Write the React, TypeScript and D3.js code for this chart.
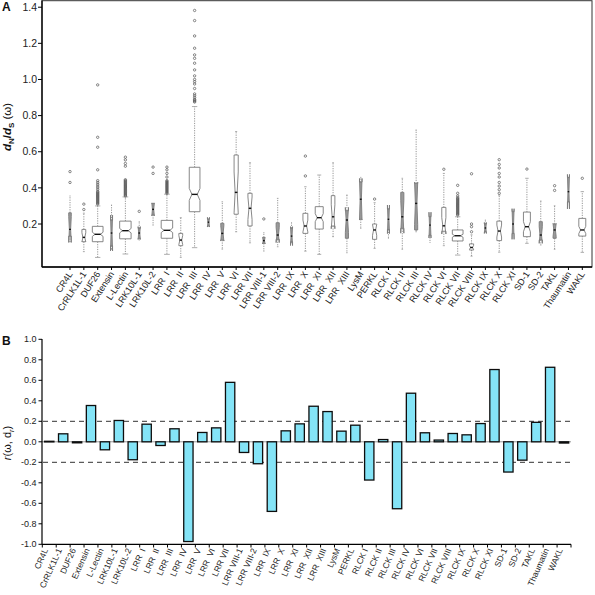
import React from "react";
import * as d3 from "d3";

const categories = [
  "CR4L", "CrRLK1L-1", "DUF26", "Extensin", "L-Lectin", "LRK10L-1", "LRK10L-2",
  "LRR  I", "LRR  II", "LRR  III", "LRR  IV", "LRR  V", "LRR  VI", "LRR VII",
  "LRR VIII-1", "LRR VIII-2", "LRR  IX", "LRR  X", "LRR  XI", "LRR  XII", "LRR  XIII",
  "LysM", "PERKL", "RLCK I", "RLCK II", "RLCK III", "RLCK IV", "RLCK VI", "RLCK VII",
  "RLCK VIII", "RLCK IX", "RLCK X", "RLCK XI", "SD-1", "SD-2", "TAKL", "Thaumatin", "WAKL",
];

// Panel A: dN/dS box statistics
const q1 = [0.133, 0.102, 0.102, 0.08, 0.118, 0.121, 0.25, 0.121, 0.08, 0.268, 0.189, 0.111, 0.254, 0.189,
  0.093, 0.115, 0.102, 0.148, 0.172, 0.189, 0.121, 0.226, 0.115, 0.17, 0.176, 0.167, 0.139, 0.16, 0.106,
  0.056, 0.157, 0.108, 0.148, 0.13, 0.112, 0.121, 0.323, 0.133];
const medians = [0.17, 0.126, 0.143, 0.15, 0.163, 0.15, 0.281, 0.165, 0.111, 0.364, 0.21, 0.148, 0.375, 0.287,
  0.108, 0.139, 0.133, 0.189, 0.235, 0.24, 0.222, 0.337, 0.167, 0.226, 0.24, 0.314, 0.194, 0.19, 0.135,
  0.07, 0.178, 0.161, 0.2, 0.185, 0.139, 0.167, 0.379, 0.167];
const q3 = [0.262, 0.17, 0.187, 0.22, 0.216, 0.176, 0.314, 0.22, 0.148, 0.514, 0.227, 0.204, 0.582, 0.37,
  0.126, 0.207, 0.176, 0.259, 0.296, 0.357, 0.274, 0.432, 0.2, 0.282, 0.375, 0.425, 0.24, 0.292, 0.167,
  0.09, 0.2, 0.216, 0.268, 0.266, 0.213, 0.2, 0.458, 0.231];
const whiskerLow = [0.102, 0.047, 0.015, 0.06, 0.034, 0.111, 0.194, 0.032, 0.015, 0.069, 0.189, 0.061, 0.157, 0.096,
  0.05, 0.074, 0.096, 0.05, 0.032, 0.13, 0.041, 0.176, 0.065, 0.121, 0.06, 0.157, 0.098, 0.08, 0.028,
  0.022, 0.157, 0.044, 0.148, 0.093, 0.084, 0.06, 0.323, 0.043];
const whiskerHigh = [0.355, 0.26, 0.3, 0.305, 0.35, 0.213, 0.314, 0.365, 0.235, 0.85, 0.227, 0.323, 0.712, 0.539,
  0.152, 0.342, 0.207, 0.406, 0.471, 0.539, 0.36, 0.458, 0.318, 0.285, 0.453, 0.72, 0.24, 0.48, 0.24,
  0.14, 0.222, 0.36, 0.272, 0.453, 0.327, 0.301, 0.458, 0.379];
const sampleSizes = [8, 18, 140, 5, 160, 6, 8, 160, 18, 140, 5, 12, 21, 21,
  8, 12, 5, 29, 78, 16, 12, 8, 21, 5, 12, 12, 5, 21, 140,
  21, 5, 27, 5, 59, 12, 12, 5, 59];
const outliers: number[][] = [
  [0.43, 0.49],
  [0.28, 0.31],
  [0.31, 0.315, 0.32, 0.325, 0.33, 0.335, 0.34, 0.345, 0.35, 0.355, 0.36, 0.365, 0.37, 0.375, 0.38, 0.39, 0.4, 0.41, 0.42, 0.43, 0.44, 0.5, 0.625, 0.68, 0.97],
  [],
  [0.355, 0.36, 0.365, 0.37, 0.375, 0.38, 0.385, 0.39, 0.395, 0.4, 0.405, 0.41, 0.415, 0.42, 0.425, 0.43, 0.435, 0.44, 0.445, 0.52, 0.535, 0.555, 0.57],
  [0.27],
  [0.48, 0.515],
  [0.37, 0.375, 0.38, 0.385, 0.39, 0.395, 0.4, 0.405, 0.41, 0.415, 0.42, 0.425, 0.43, 0.435, 0.44, 0.46, 0.48, 0.5, 0.515],
  [],
  [0.875, 0.88, 0.885, 0.89, 0.9, 0.91, 0.92, 0.95, 0.975, 0.988, 1.0, 1.02, 1.053, 1.09, 1.117, 1.136, 1.173, 1.241, 1.326, 1.382],
  [], [], [], [],
  [0.228],
  [], [],
  [0.466, 0.576],
  [], [], [], [],
  [0.338],
  [], [], [], [],
  [0.503],
  [0.25, 0.255, 0.26, 0.265, 0.27, 0.275, 0.28, 0.285, 0.29, 0.295, 0.3, 0.305, 0.31, 0.315, 0.32, 0.325, 0.33, 0.335, 0.34, 0.345, 0.355, 0.37, 0.414],
  [0.157, 0.185, 0.2, 0.478],
  [],
  [0.37, 0.39, 0.41, 0.43, 0.46, 0.48, 0.51, 0.53, 0.556],
  [],
  [0.504],
  [],
  [0.386, 0.412],
  [],
  [0.453],
];
const yTicksA = [0.2, 0.4, 0.6, 0.8, 1.0, 1.2, 1.4];

// Panel B: correlation r(omega, d_r)
const corrValues = [0.005, 0.078, -0.01, 0.354, -0.078, 0.208, -0.175, 0.172, -0.036, 0.127, -0.973, 0.091,
  0.136, 0.58, -0.104, -0.214, -0.679, 0.107, 0.175, 0.347, 0.295, 0.104, 0.162, -0.373, 0.022, -0.653,
  0.474, 0.088, 0.017, 0.081, 0.068, 0.178, 0.705, -0.295, -0.179, 0.19, 0.727, -0.012];
const yTicksB = [1.0, 0.8, 0.6, 0.4, 0.2, 0.0, -0.2, -0.4, -0.6, -0.8, -1.0];
const thresholds = [0.2, -0.2];

const FONT = "Arial, 'Liberation Sans', sans-serif";

export default function App() {
  // ---------- Panel A ----------
  const xA = d3.scalePoint<string>().domain(categories).range([70, 582.3]);
  const yA = d3.scaleLinear().domain([-0.038, 1.436]).range([267, 0.7]);
  const maxWidth = 10.7;
  const refN = 140;

  const boxes = categories.map((c, i) => {
    const cx = xA(c) as number;
    const n = sampleSizes[i];
    const hw = (maxWidth * Math.sqrt(n / refN)) / 2;
    const nh = (1.58 * (q3[i] - q1[i])) / Math.sqrt(n);
    const ind = hw / 2;
    const med = medians[i];
    const pts: [number, number][] = [
      [cx - hw, yA(q1[i])],
      [cx - hw, yA(med - nh)],
      [cx - hw + ind, yA(med)],
      [cx - hw, yA(med + nh)],
      [cx - hw, yA(q3[i])],
      [cx + hw, yA(q3[i])],
      [cx + hw, yA(med + nh)],
      [cx + hw - ind, yA(med)],
      [cx + hw, yA(med - nh)],
      [cx + hw, yA(q1[i])],
    ];
    const line = d3.line();
    const narrow = hw < 1.6;
    return (
      <g key={c}>
        <line x1={cx} x2={cx} y1={yA(q3[i])} y2={yA(whiskerHigh[i])} stroke="#8a8a8a" strokeWidth={0.9} strokeDasharray="1.2,1.2" />
        <line x1={cx} x2={cx} y1={yA(q1[i])} y2={yA(whiskerLow[i])} stroke="#8a8a8a" strokeWidth={0.9} strokeDasharray="1.2,1.2" />
        <line x1={cx - hw / 2} x2={cx + hw / 2} y1={yA(whiskerHigh[i])} y2={yA(whiskerHigh[i])} stroke="#999" strokeWidth={0.8} />
        <line x1={cx - hw / 2} x2={cx + hw / 2} y1={yA(whiskerLow[i])} y2={yA(whiskerLow[i])} stroke="#999" strokeWidth={0.8} />
        <path d={(line(pts) as string) + "Z"} fill={narrow ? "#9a9a9a" : "#fff"} stroke="#7a7a7a" strokeWidth={0.9} />
        <line x1={cx - hw + ind - 0.3} x2={cx + hw - ind + 0.3} y1={yA(med)} y2={yA(med)} stroke="#111" strokeWidth={1.4} />
        {outliers[i].map((v, k) => (
          <circle key={k} cx={cx} cy={yA(v)} r={1.2} fill="none" stroke="#555" strokeWidth={0.7} />
        ))}
      </g>
    );
  });

  // ---------- Panel B ----------
  const xB = d3.scaleBand<string>().domain(categories).range([42.3, 571]).paddingInner(0.33).paddingOuter(0.165);
  const yB = d3.scaleLinear().domain([-1, 1]).range([544.3, 339.3]);
  const step = xB.step();
  const bandStart = 42.3;

  return (
    <svg width={595} height={595} style={{ position: "absolute", left: 0, top: 0, background: "#fff" }} fontFamily={FONT}>
      {/* Panel A */}
      <text x={2} y={11} fontSize={12} fontWeight="bold" fill="#111">A</text>
      <rect x={42} y={0.7} width={550} height={266.3} fill="none" stroke="#333" strokeWidth={1} />
      {boxes}
      <line x1={42} x2={42} y1={0.5} y2={267} stroke="#000" strokeWidth={1.3} />
      <line x1={42} x2={592} y1={267} y2={267} stroke="#000" strokeWidth={1.3} />
      {yTicksA.map((t) => (
        <g key={t}>
          <line x1={38} x2={42} y1={yA(t)} y2={yA(t)} stroke="#000" strokeWidth={1} />
          <text x={37} y={yA(t)} dy="0.35em" textAnchor="end" fontSize={10.5} fill="#222">{t.toFixed(1)}</text>
        </g>
      ))}
      {categories.map((c) => {
        const x = xA(c) as number;
        return (
          <g key={c}>
            <line x1={x} x2={x} y1={267} y2={270} stroke="#000" strokeWidth={1} />
            <text transform={`translate(${x + 3},${274}) rotate(-57)`} textAnchor="end" fontSize={9} fill="#222" style={{ whiteSpace: "pre" }}>{c}</text>
          </g>
        );
      })}
      <text transform="translate(11,127) rotate(-90)" textAnchor="middle" fontSize={11.5} fill="#111" fontWeight="bold">
        <tspan fontStyle="italic">d</tspan>
        <tspan fontSize={8} dy={2.5}>N</tspan>
        <tspan dy={-2.5}>/</tspan>
        <tspan fontStyle="italic">d</tspan>
        <tspan fontSize={8} dy={2.5}>S</tspan>
        <tspan dy={-2.5} fontWeight="normal"> (ω)</tspan>
      </text>

      {/* Panel B */}
      <text x={2} y={345} fontSize={12} fontWeight="bold" fill="#111">B</text>
      <line x1={42} x2={571} y1={yB(0)} y2={yB(0)} stroke="#999" strokeWidth={1} />
      {thresholds.map((t) => (
        <line key={t} x1={43} x2={571} y1={yB(t)} y2={yB(t)} stroke="#333" strokeWidth={1} strokeDasharray="5,4" />
      ))}
      {categories.map((c, i) => {
        const v = corrValues[i];
        const y0 = yB(0);
        const y1 = yB(v);
        return (
          <rect key={c} x={xB(c) as number} width={xB.bandwidth()} y={Math.min(y0, y1)} height={Math.max(Math.abs(y1 - y0), 0.6)}
            fill="#84e4f7" stroke="#0d0d0d" strokeWidth={1.3} />
        );
      })}
      <line x1={42} x2={42} y1={339} y2={544.3} stroke="#000" strokeWidth={1.2} />
      <line x1={42} x2={571} y1={544.3} y2={544.3} stroke="#000" strokeWidth={1.2} />
      {yTicksB.map((t) => (
        <g key={t}>
          <line x1={38.5} x2={42} y1={yB(t)} y2={yB(t)} stroke="#000" strokeWidth={1} />
          <text x={36.5} y={yB(t)} dy="0.35em" textAnchor="end" fontSize={9} fill="#222">{t.toFixed(1)}</text>
        </g>
      ))}
      {categories.map((c, i) => {
        const xb = bandStart + step * i;
        const cx = (xB(c) as number) + xB.bandwidth() / 2;
        return (
          <g key={c}>
            <line x1={xb} x2={xb} y1={544.3} y2={547.5} stroke="#000" strokeWidth={1} />
            <text transform={`translate(${cx - 1},${550}) rotate(-66)`} textAnchor="end" fontSize={8.5} fill="#222" style={{ whiteSpace: "pre" }}>{c}</text>
          </g>
        );
      })}
      <line x1={571} x2={571} y1={544.3} y2={547.5} stroke="#000" strokeWidth={1} />
      <text transform="translate(11,443) rotate(-90)" textAnchor="middle" fontSize={11} fill="#111">
        <tspan fontStyle="italic">r</tspan>
        <tspan>(ω, d</tspan>
        <tspan fontSize={7.5} dy={2.5} fontStyle="italic">r</tspan>
        <tspan dy={-2.5}>)</tspan>
      </text>
    </svg>
  );
}
